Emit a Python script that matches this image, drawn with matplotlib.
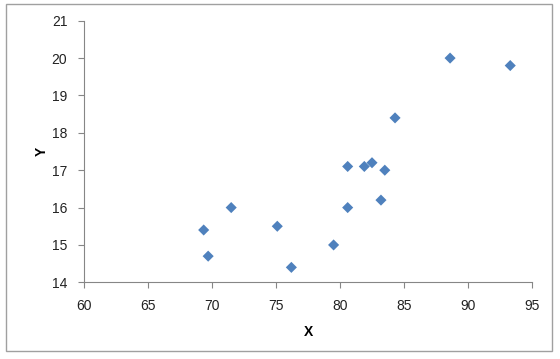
import matplotlib
matplotlib.use('Agg')
import matplotlib.pyplot as plt
from matplotlib.patches import Rectangle

x_vals = [69.35, 69.7, 71.5, 75.1, 76.2, 79.5, 80.6, 80.6, 81.9, 82.5, 83.2, 83.5, 84.3, 88.6, 93.3]
y_vals = [15.4, 14.7, 16.0, 15.5, 14.4, 15.0, 17.1, 16.0, 17.1, 17.2, 16.2, 17.0, 18.4, 20.0, 19.8]
x_ticks = [60, 65, 70, 75, 80, 85, 90, 95]
y_ticks = [14, 15, 16, 17, 18, 19, 20, 21]

plt.rcParams['font.family'] = ['Liberation Sans', 'DejaVu Sans']

fig = plt.figure(figsize=(5.6, 3.59), dpi=100)
ax = fig.add_axes([0.15, 0.2136, 0.80, 0.7287])

ax.scatter(x_vals, y_vals, marker='D', s=32, color='#4F81BD', edgecolors='none', zorder=3)

ax.set_xlim(60, 95)
ax.set_ylim(14, 21)
ax.set_xticks(x_ticks)
ax.set_yticks(y_ticks)
ax.tick_params(direction='out', length=4, color='#868686', labelsize=10, labelcolor='#222222')
ax.tick_params(axis='x', pad=8)
ax.tick_params(axis='y', pad=8)
for s in ['top', 'right']:
    ax.spines[s].set_visible(False)
for s in ['left', 'bottom']:
    ax.spines[s].set_color('#868686')

ax.set_xlabel('X', fontweight='bold', fontsize=10, labelpad=8.5)
ax.set_ylabel('Y', fontweight='bold', fontsize=10, labelpad=2)

# outer chart border
fig.patches.append(Rectangle((6 / 560, 1 - 351 / 359), 546 / 560, 347 / 359,
                             transform=fig.transFigure, fill=False,
                             edgecolor='#A0A0A0', linewidth=1))

fig.savefig('out.png', dpi=100)
